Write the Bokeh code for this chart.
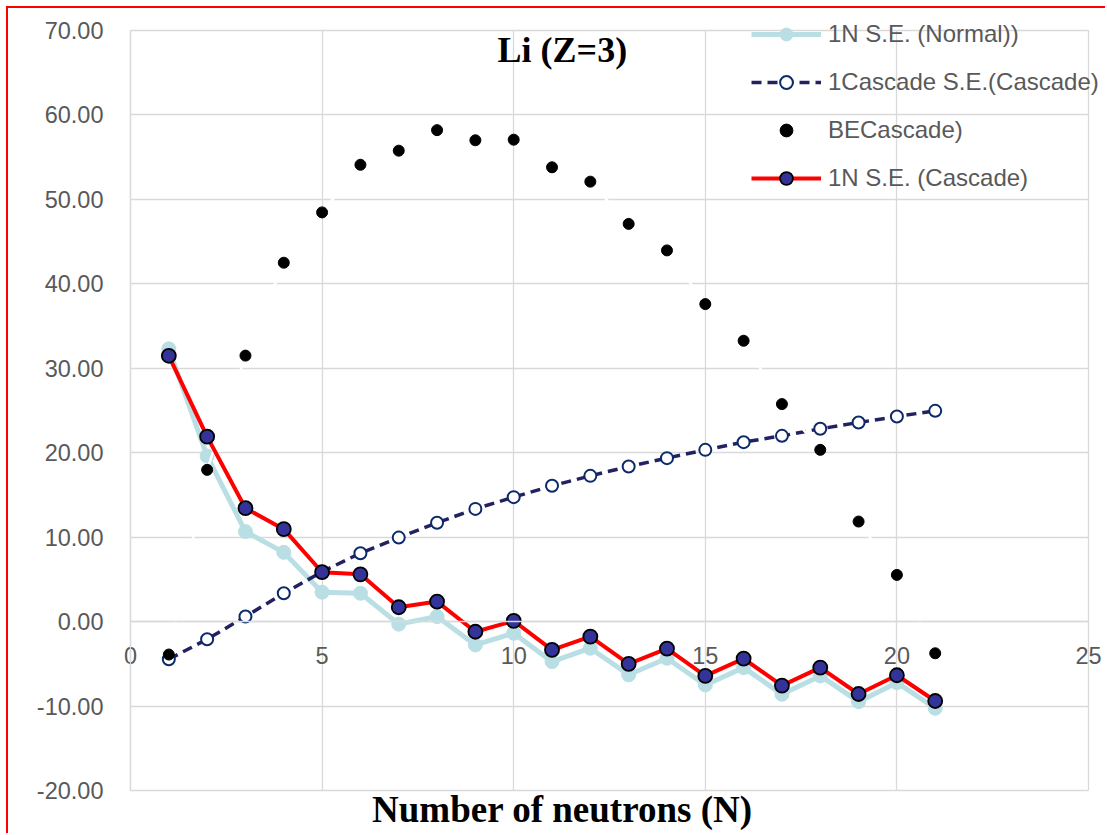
from bokeh.plotting import figure
from bokeh.models import (Range1d, SingleIntervalTicker, NumeralTickFormatter,
                          Legend, LegendItem, Label)
from bokeh.embed import file_html
from bokeh.resources import INLINE

# ---- data ----
neutrons = list(range(1, 22))
se_normal = [32.3, 19.6, 10.66, 8.2, 3.48, 3.36, -0.3, 0.6, -2.76, -1.38, -4.74,
             -3.15, -6.3, -4.34, -7.5, -5.45, -8.6, -6.43, -9.48, -7.23, -10.26]
se_1cascade = [-4.45, -2.09, 0.6, 3.36, 5.9, 8.1, 9.95, 11.7, 13.35, 14.74, 16.08,
               17.26, 18.37, 19.36, 20.34, 21.25, 22.0, 22.83, 23.58, 24.29, 24.96]
be_cascade = [-3.9, 17.97, 31.5, 42.5, 48.46, 54.1, 55.77, 58.2, 57.0, 57.07, 53.8,
              52.1, 47.1, 43.96, 37.6, 33.26, 25.76, 20.34, 11.85, 5.53, -3.75]
se_cascade = [31.48, 21.9, 13.43, 10.95, 5.85, 5.6, 1.7, 2.37, -1.2, 0.08, -3.35,
              -1.78, -5.01, -3.2, -6.43, -4.38, -7.58, -5.45, -8.57, -6.35, -9.4]

series_names = ["1N S.E. (Normal))", "1Cascade S.E.(Cascade)", "BECascade)", "1N S.E. (Cascade)"]
chart_title = "Li (Z=3)"
x_title = "Number of neutrons (N)"

x_axis_min, x_axis_max, x_step = 0, 25, 5
y_axis_min, y_axis_max, y_step = -20, 70, 10

GRID = "#d9d9d9"
TXT = "#595959"

# the frame fills the whole canvas; axes are drawn at fixed locations inside it
p = figure(width=1099, height=827,
           x_range=Range1d(-3.1837, 25.4958), y_range=Range1d(-25.329, 72.605),
           output_backend="svg", toolbar_location=None,
           min_border_left=0, min_border_right=0, min_border_top=0, min_border_bottom=0,
           background_fill_color="white", border_fill_color="white",
           outline_line_color=None)
p.margin = (6, 0, 0, 6)
p.styles = {"border-left": "2px solid #ff0000", "border-top": "2px solid #ff0000"}

xa = p.xaxis[0]
xa.ticker = SingleIntervalTicker(interval=x_step)
xa.fixed_location = 0
xa.bounds = (x_axis_min, x_axis_max)
xa.major_tick_line_color = None
xa.minor_tick_line_color = None
xa.axis_line_color = GRID
xa.axis_line_width = 1.3
xa.major_label_standoff = 19
xa.major_label_text_font = "Liberation Sans"
xa.major_label_text_font_size = "23.5px"
xa.major_label_text_color = TXT

ya = p.yaxis[0]
ya.ticker = SingleIntervalTicker(interval=y_step)
ya.formatter = NumeralTickFormatter(format="0.00")
ya.fixed_location = 0
ya.bounds = (y_axis_min, y_axis_max)
ya.major_tick_line_color = None
ya.minor_tick_line_color = None
ya.axis_line_color = GRID
ya.axis_line_width = 1.3
ya.major_label_standoff = 21
ya.major_label_text_font = "Liberation Sans"
ya.major_label_text_font_size = "23.5px"
ya.major_label_text_color = TXT

xg = p.xgrid[0]
yg = p.ygrid[0]
xg.grid_line_color = GRID
xg.grid_line_width = 1.3
yg.grid_line_color = GRID
yg.grid_line_width = 1.3
xg.bounds = (x_axis_min, x_axis_max)
yg.bounds = (y_axis_min, y_axis_max)
xg.cross_bounds = (y_axis_min, y_axis_max)
yg.cross_bounds = (x_axis_min, x_axis_max)

# series 1: normal
l1 = p.line(neutrons, se_normal, line_color="#b9dfe4", line_width=5)
s1 = p.scatter(neutrons, se_normal, size=14, fill_color="#b9dfe4", line_color="#b9dfe4")

# series 2: 1Cascade dashed
l2 = p.line(neutrons, se_1cascade, line_color="#222262", line_width=3.5, line_dash="10 6")
s2 = p.scatter(neutrons, se_1cascade, size=12, fill_color="white", line_color="#0b2a6a", line_width=2)

# series 3: BE (white connecting line + black dots)
p.line(neutrons, be_cascade, line_color="white", line_width=2.5)
s3 = p.scatter(neutrons, be_cascade, size=11, fill_color="black", line_color="black")

# series 4: cascade
l4 = p.line(neutrons, se_cascade, line_color="#ff0000", line_width=4)
s4 = p.scatter(neutrons, se_cascade, size=14, fill_color="#333399", line_color="black", line_width=1.8)

legend = Legend(items=[LegendItem(label=series_names[0], renderers=[l1, s1]),
                       LegendItem(label=series_names[1], renderers=[l2, s2]),
                       LegendItem(label=series_names[2], renderers=[s3]),
                       LegendItem(label=series_names[3], renderers=[l4, s4])],
                location=(743, 641), orientation="vertical",
                glyph_width=70, glyph_height=32, label_height=32, spacing=16,
                padding=0, margin=0, label_standoff=7,
                label_text_font="Liberation Sans", label_text_font_size="24px",
                label_text_color=TXT, background_fill_alpha=0, border_line_alpha=0)
p.add_layout(legend)

p.add_layout(Label(x=11.27, y=67.7, text=chart_title, text_font="Liberation Serif",
                   text_font_style="bold", text_font_size="36px", text_align="center",
                   text_baseline="alphabetic", text_color="black"))
p.add_layout(Label(x=11.27, y=-22.3, text=x_title, text_font="Liberation Serif",
                   text_font_style="bold", text_font_size="37px", text_align="center",
                   text_baseline="alphabetic", text_color="black"))

open("out.html", "w").write(file_html(p, INLINE))
